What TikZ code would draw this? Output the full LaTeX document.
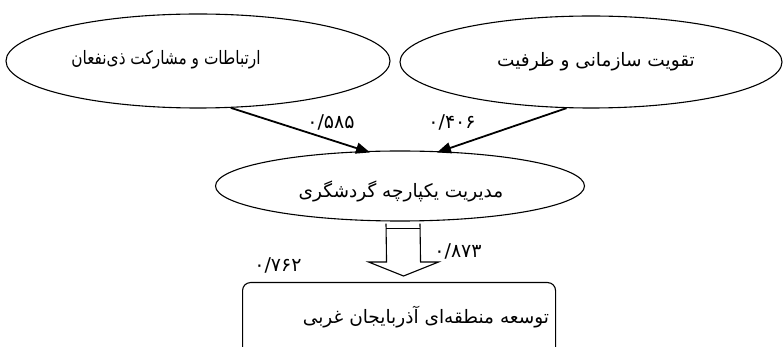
\documentclass[tikz,border=0pt]{standalone}
\usepackage{fontspec}
\TeXXeTstate=1
\newfontfamily\arabicfont[Script=Arabic]{DejaVu Sans}
\newfontfamily\arabicnarrow[Script=Arabic,FakeStretch=0.83]{DejaVu Sans}
\usetikzlibrary{shapes.geometric,arrows.meta,calc}
\begin{document}
\begin{tikzpicture}[x=1pt,y=-1pt,
  oval/.style={draw,ellipse,line width=1.1pt,inner sep=0pt},
  txt/.style={font=\arabicfont\fontsize{18.5}{22}\selectfont,inner sep=0pt},
  txtn/.style={font=\arabicnarrow\fontsize{18.5}{22}\selectfont,inner sep=0pt},
  num/.style={font=\arabicfont\fontsize{19}{22}\selectfont,inner sep=0pt},
  link/.style={line width=1.8pt,-{Triangle[length=14pt,width=11pt]}},
  box/.style={draw,line width=1.1pt,rounded corners=8pt,inner sep=0pt,anchor=north west}
]
\useasboundingbox (0,0) rectangle (784,347);
\clip (0,0) rectangle (784,347);

\node[oval,minimum width=384pt,minimum height=94pt] (e1) at (198,61) {};
\node[txtn] (e1t) at (166,60) {\beginR ارتباطات و مشارکت ذی‌نفعان\endR};
\node[oval,minimum width=382pt,minimum height=92pt] (e2) at (591,62) {};
\node[txt] (e2t) at (596,62) {\beginR تقویت سازمانی و ظرفیت\endR};
\node[oval,minimum width=369pt,minimum height=70pt] (e3) at (400,186) {};
\node[txt] (e3t) at (401,191) {\beginR مدیریت یکپارچه گردشگری\endR};
\node[box,minimum width=313pt,minimum height=90pt] (r) at (242,282) {};
\node[txt] (rt) at (426,317) {\beginR توسعه منطقه‌ای آذربایجان غربی\endR};

\draw[link] (e1.-55) -- ($(e3.north)+(-30,2)$);
\draw[link] (e2.-118) -- ($(e3.north)+(37,2)$);

\coordinate (bt) at ($(e3.south)+(3,2)$);
\coordinate (bh) at ($(r.north)+(4.5,-6)$);
\draw[line width=1.1pt,fill=white,line join=miter]
  ($(bt)+(-17,0)$) -- ($(bh)+(-17,-14)$) -- ($(bh)+(-35,-14)$) -- (bh)
  -- ($(bh)+(35,-14)$) -- ($(bh)+(17,-14)$) -- ($(bt)+(17,0)$);
\draw[line width=1.6pt] ($(bt)+(-17,5)$) -- ($(bt)+(17,5)$);

\node[num] (n1) at (331,122) {۰/۵۸۵};
\node[num] (n2) at (452,122) {۰/۴۰۶};
\node[num] (n3) at (458,251) {۰/۸۷۳};
\node[num] (n4) at (278,265) {۰/۷۶۲};
\end{tikzpicture}
\end{document}
